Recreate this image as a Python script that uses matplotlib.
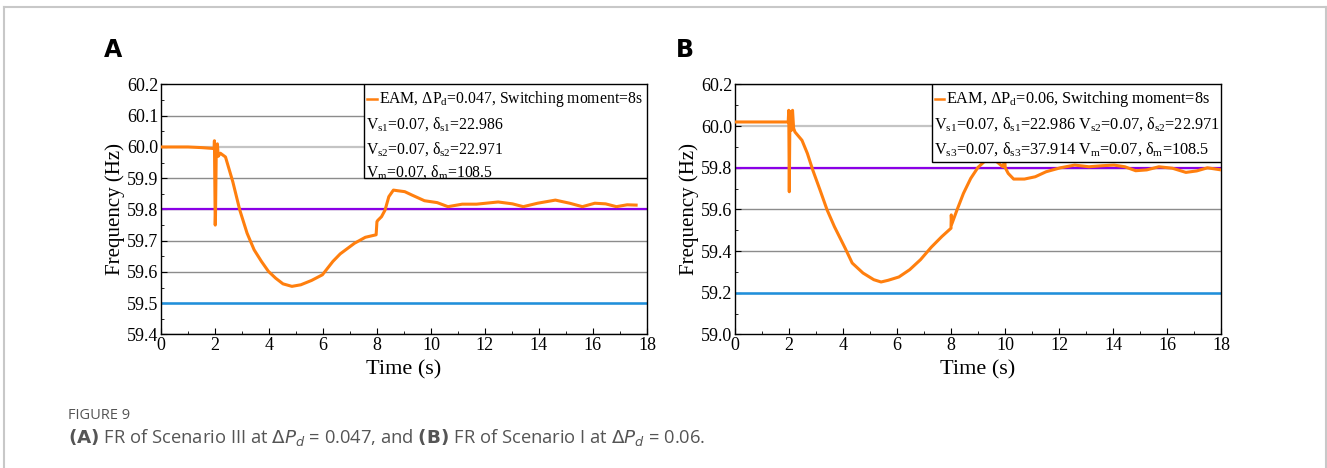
import matplotlib
matplotlib.use("Agg")
import matplotlib.pyplot as plt
from matplotlib.patches import Rectangle
from matplotlib.lines import Line2D
from matplotlib.ticker import MultipleLocator, FormatStrFormatter

# ---------------- data ----------------
time_a = [0.0, 0.5, 1.0, 1.5, 1.97, 1.98, 2.01, 2.02, 2.05, 2.09, 2.12, 2.2, 2.39, 2.66,
          2.92, 3.19, 3.45, 3.72, 3.98, 4.25, 4.52, 4.85, 5.18, 5.58, 5.98, 6.37,
          6.64, 7.17, 7.57, 7.97, 8.0, 8.03, 8.17, 8.30, 8.44, 8.61, 8.77, 9.03,
          9.30, 9.76, 10.23, 10.63, 11.16, 11.69, 12.49, 13.02, 13.42, 13.95,
          14.61, 15.14, 15.61, 16.07, 16.47, 16.87, 17.27, 17.6]
freq_a = [60.0, 60.0, 60.0, 59.998, 59.995, 60.02, 59.75, 59.78, 60.0, 60.01, 59.97, 59.98,
          59.968, 59.889, 59.798, 59.724, 59.671, 59.634, 59.602, 59.580, 59.562,
          59.554, 59.559, 59.573, 59.591, 59.634, 59.658, 59.692, 59.711, 59.719,
          59.761, 59.765, 59.777, 59.798, 59.841, 59.862, 59.860, 59.857, 59.846,
          59.828, 59.822, 59.809, 59.817, 59.817, 59.824, 59.818, 59.809, 59.820,
          59.830, 59.820, 59.809, 59.820, 59.818, 59.809, 59.815, 59.814]

time_b = [0.0, 0.5, 1.0, 1.5, 1.97, 1.99, 2.01, 2.03, 2.06, 2.09, 2.13, 2.17, 2.22,
          2.48, 2.68, 2.88, 3.15, 3.41, 3.68, 4.08, 4.34, 4.74, 5.14, 5.41, 5.67,
          6.07, 6.47, 6.87, 7.27, 7.66, 8.0, 8.01, 8.03, 8.2, 8.46, 8.73, 9.0,
          9.26, 9.46, 9.66, 9.92, 9.99, 10.01, 10.12, 10.32, 10.72, 11.12, 11.52,
          12.05, 12.58, 13.11, 13.6, 14.04, 14.44, 14.84, 15.25, 15.7, 16.2, 16.7,
          17.1, 17.5, 18.0]
freq_b = [60.02, 60.02, 60.02, 60.02, 60.02, 60.076, 59.685, 60.0, 60.07, 59.98, 60.076,
          59.99, 59.972, 59.932, 59.869, 59.789, 59.693, 59.598, 59.518, 59.414,
          59.343, 59.295, 59.263, 59.252, 59.260, 59.276, 59.311, 59.359, 59.419,
          59.470, 59.510, 59.574, 59.53, 59.590, 59.677, 59.749, 59.802, 59.833,
          59.845, 59.833, 59.805, 59.835, 59.80, 59.773, 59.746, 59.746, 59.757,
          59.781, 59.800, 59.813, 59.805, 59.810, 59.813, 59.805, 59.786, 59.790,
          59.805, 59.798, 59.778, 59.785, 59.800, 59.790]

ref_lines_a = [59.8, 59.5]
ref_lines_b = [59.8, 59.2]
legend_a = ["EAM, ΔP$_{\\rm d}$=0.047, Switching moment=8s",
            "V$_{\\rm s1}$=0.07, δ$_{\\rm s1}$=22.986",
            "V$_{\\rm s2}$=0.07, δ$_{\\rm s2}$=22.971",
            "V$_{\\rm m}$=0.07, δ$_{\\rm m}$=108.5"]
legend_b = ["EAM, ΔP$_{\\rm d}$=0.06, Switching moment=8s",
            "V$_{\\rm s1}$=0.07, δ$_{\\rm s1}$=22.986 V$_{\\rm s2}$=0.07, δ$_{\\rm s2}$=22.971",
            "V$_{\\rm s3}$=0.07, δ$_{\\rm s3}$=37.914 V$_{\\rm m}$=0.07, δ$_{\\rm m}$=108.5"]

plt.rcParams['font.family'] = ['Liberation Serif', 'DejaVu Serif']
plt.rcParams['mathtext.fontset'] = 'custom'
plt.rcParams['mathtext.rm'] = 'Liberation Serif'
plt.rcParams['mathtext.it'] = 'Liberation Serif:italic'

ORANGE = '#ff7f0e'
PURPLE = '#8a00e6'
BLUE = '#1e90dd'

fig = plt.figure(figsize=(13.27, 4.68), dpi=100)

# figure frame
fig.add_artist(Line2D([0.003, 0.999], [0.985, 0.985], color='#c8c8c8', lw=1.5))
fig.add_artist(Line2D([0.003, 0.003], [0.0, 0.985], color='#c8c8c8', lw=1.5))
fig.add_artist(Line2D([0.999, 0.999], [0.0, 0.985], color='#c8c8c8', lw=1.5))


def make_panel(rect, t, f, ylim, ystep, refs, legend_lines, box_left, box_h,
               rows, fs, label, label_x):
    ax = fig.add_axes(rect)
    ax.set_xlim(0, 18)
    ax.set_ylim(*ylim)
    ax.xaxis.set_major_locator(MultipleLocator(2))
    ax.xaxis.set_minor_locator(MultipleLocator(1))
    ax.yaxis.set_major_locator(MultipleLocator(ystep))
    ax.yaxis.set_minor_locator(MultipleLocator(ystep / 2))
    ax.tick_params(which='both', direction='in', labelsize=13, pad=2)
    ax.tick_params(which='major', length=4)
    ax.tick_params(which='minor', length=2)
    ax.yaxis.set_major_formatter(FormatStrFormatter('%.1f'))
    for yv in ax.get_yticks():
        if ylim[0] < yv < ylim[1] and abs(yv - 60.0) > 1e-6:
            ax.axhline(yv, color='#8c8c8c', lw=1.0, zorder=1)
    ax.axhline(60.0, color='#c4c4c4', lw=1.6, zorder=1)
    ax.axhline(refs[0], color=PURPLE, lw=1.6, zorder=2)
    ax.axhline(refs[1], color=BLUE, lw=1.8, zorder=2)
    ax.plot(t, f, color=ORANGE, lw=2.2, zorder=3)
    for s in ax.spines.values():
        s.set_linewidth(1.0)
    ax.set_xlabel('Time (s)', fontsize=16, labelpad=4)
    ax.set_ylabel('Frequency (Hz)', fontsize=15, labelpad=1)

    # legend box
    ax.add_patch(Rectangle((box_left, 1 - box_h), 1 - box_left, box_h,
                           transform=ax.transAxes, facecolor='white',
                           edgecolor='black', lw=1.0, zorder=5))
    y0 = 1 - rows[0]
    ax.add_line(Line2D([box_left + 0.006, box_left + 0.026], [y0, y0],
                       transform=ax.transAxes, color=ORANGE, lw=1.8, zorder=6))
    ax.text(box_left + 0.03, y0, legend_lines[0], transform=ax.transAxes,
            fontsize=fs, va='center', ha='left', zorder=6)
    for r, txt in zip(rows[1:], legend_lines[1:]):
        ax.text(box_left + 0.004, 1 - r, txt, transform=ax.transAxes,
                fontsize=fs, va='center', ha='left', zorder=6)
    fig.text(label_x, 0.893, label, fontsize=17, fontweight='bold',
             family='DejaVu Sans', ha='left', va='center')
    return ax


make_panel([0.1213, 0.2853, 0.3662, 0.5342], time_a, freq_a, (59.4, 60.2), 0.1,
           ref_lines_a, legend_a, 0.418, 0.375, [0.058, 0.16, 0.26, 0.352], 11.3,
           'A', 0.078)
make_panel([0.5539, 0.2853, 0.3662, 0.5342], time_b, freq_b, (59.0, 60.2), 0.2,
           ref_lines_b, legend_b, 0.405, 0.312, [0.058, 0.158, 0.258], 11.7,
           'B', 0.509)

fig.text(0.051, 0.112, 'FIGURE 9', fontsize=10.5, color='#555555',
         family='Open Sans', ha='left', va='center')
fig.text(0.051, 0.066,
         r'$\bf{(A)}$ FR of Scenario III at $\Delta P_d$ = 0.047, and $\bf{(B)}$ FR of Scenario I at $\Delta P_d$ = 0.06.',
         fontsize=13.2, color='#555555', family='Open Sans', ha='left', va='center',
         math_fontfamily='dejavusans')

fig.savefig('out.png', dpi=100)
